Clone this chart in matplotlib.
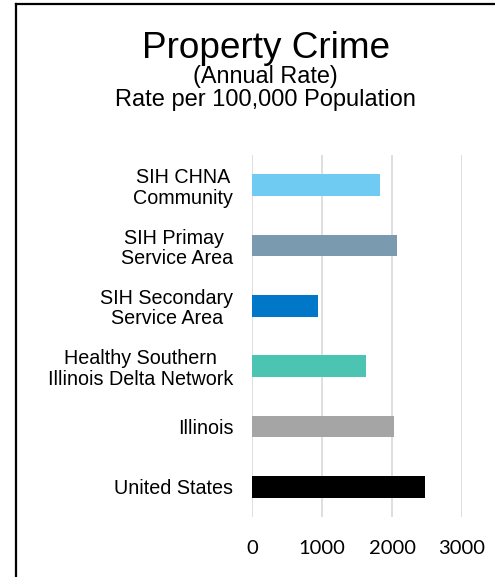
import matplotlib
matplotlib.use("Agg")
import matplotlib.pyplot as plt
from matplotlib.lines import Line2D

categories = ["SIH CHNA\nCommunity", "SIH Primay \nService Area", "SIH Secondary\nService Area",
              "Healthy Southern\nIllinois Delta Network", "Illinois", "United States"]
values = [1826, 2068, 941, 1626, 2026, 2468]
colors = ["#6FCBF1", "#7A9AAF", "#0077C8", "#4BC5B1", "#A5A5A5", "#000000"]
xticks = [0, 1000, 2000, 3000]

W, H = 495, 577
fig = plt.figure(figsize=(W / 100, H / 100), dpi=100)
ax = fig.add_axes([252 / W, 1 - 517 / H, (462 - 252) / W, (517 - 155) / H])

ypos = list(range(len(categories)))
ax.barh(ypos, values, height=0.36, color=colors, zorder=3)
ax.set_ylim(len(categories) - 0.5, -0.5)
ax.set_xlim(0, 3000)
ax.set_xticks(xticks)
ax.set_xticklabels([str(t) for t in xticks], fontfamily="Lato", fontsize=14.5)
ax.set_yticks(ypos)
ax.set_yticklabels(categories, fontfamily="Liberation Sans", fontsize=14.2,
                   multialignment="center", linespacing=1.1)
ax.tick_params(axis="both", length=0)
ax.tick_params(axis="x", pad=16.5)
ax.tick_params(axis="y", pad=13.5)
for s in ax.spines.values():
    s.set_visible(False)
ax.grid(axis="x", color="#d9d9d9", linewidth=1.2, zorder=0)
ax.set_axisbelow(True)

fig.text(266 / W, 1 - 49 / H, "Property Crime", ha="center", va="center",
         fontfamily="Liberation Sans", fontsize=26.6)
fig.text(265 / W, 1 - 77 / H, "(Annual Rate)", ha="center", va="center",
         fontfamily="Liberation Sans", fontsize=16.8)
fig.text(265 / W, 1 - 100 / H, "Rate per 100,000 Population", ha="center", va="center",
         fontfamily="Liberation Sans", fontsize=17)

# figure border (left and top edges visible)
fig.add_artist(Line2D([16 / W, 16 / W], [0, 1 - 4 / H], transform=fig.transFigure, color="black", lw=1.6))
fig.add_artist(Line2D([16 / W, 1], [1 - 4 / H, 1 - 4 / H], transform=fig.transFigure, color="black", lw=1.6))

fig.savefig("out.png", dpi=100)
